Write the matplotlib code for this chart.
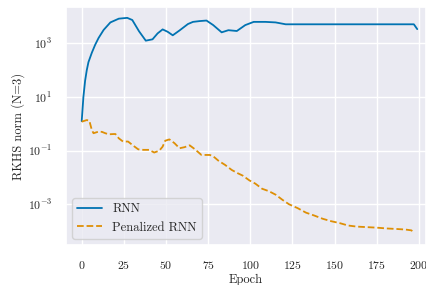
import numpy as np
import matplotlib
matplotlib.use('Agg')
from matplotlib import pyplot as plt
import seaborn as sns

# values (log10 of the norm)
rnn_epoch = [0, 1, 2, 3, 4, 6, 8, 10, 13, 17, 22, 27, 30, 34, 38, 42, 45, 48, 51,
             54, 58, 63, 66, 70, 74, 78, 83, 87, 92, 97, 102, 109, 115, 121, 130,
             150, 175, 197, 199]
rnn_log = [0.1, 1.0, 1.6, 2.0, 2.3, 2.65, 2.95, 3.2, 3.5, 3.78, 3.92, 3.95, 3.87,
           3.45, 3.1, 3.15, 3.37, 3.52, 3.43, 3.3, 3.48, 3.72, 3.8, 3.83, 3.85,
           3.68, 3.41, 3.49, 3.46, 3.68, 3.8, 3.8, 3.78, 3.71, 3.71, 3.71, 3.71,
           3.71, 3.53]

pen_epoch = [0, 3, 4.5, 6, 7, 10, 12, 14, 16, 19, 20, 22, 24.5, 27.5, 30.5, 33.5,
             36.5, 40, 43, 46, 48, 49.5, 52, 55, 58, 61, 64, 67, 71, 76, 78, 81,
             85, 89, 92.5, 95.5, 99.5, 103, 107, 111, 115, 119, 123, 128, 133,
             138, 143, 148, 153, 158, 163, 169, 175, 181, 187, 192, 195.5, 197]
pen_log = [0.08, 0.14, 0.12, -0.23, -0.35, -0.29, -0.3, -0.35, -0.39, -0.38,
           -0.38, -0.54, -0.66, -0.66, -0.81, -0.95, -0.97, -0.97, -1.07, -1.0,
           -0.85, -0.63, -0.58, -0.72, -0.91, -0.87, -0.8, -0.94, -1.16, -1.16,
           -1.21, -1.37, -1.53, -1.72, -1.84, -1.93, -2.11, -2.23, -2.42, -2.51,
           -2.64, -2.83, -3.0, -3.14, -3.31, -3.42, -3.54, -3.63, -3.7, -3.79,
           -3.83, -3.85, -3.87, -3.9, -3.92, -3.94, -3.97, -4.04]

labels = ['RNN', 'Penalized RNN']
colors = ['#0173b2', '#de8f05']
yticks = [1e-3, 1e-1, 1e1, 1e3]

sns.set_theme(style='darkgrid')
plt.rcParams['font.family'] = 'serif'
plt.rcParams['font.serif'] = ['cmr10', 'DejaVu Serif']
plt.rcParams['mathtext.fontset'] = 'cm'
plt.rcParams['axes.formatter.use_mathtext'] = True
plt.rcParams['axes.unicode_minus'] = False

fig = plt.figure(figsize=(4.26, 2.85), dpi=100)
ax = fig.add_axes([0.155, 0.14, 0.845, 0.835])

ax.plot(rnn_epoch, 10.0 ** np.array(rnn_log), color=colors[0], lw=1.3, label=labels[0])
ax.plot(pen_epoch, 10.0 ** np.array(pen_log), color=colors[1], lw=1.3, ls='--',
        label=labels[1])

ax.set_yscale('log')
ax.set_yticks(yticks)
ax.minorticks_off()
ax.set_ylim(10 ** -4.52, 10 ** 4.35)
ax.set_xlim(-9.3, 204.2)
ax.set_xticks([0, 25, 50, 75, 100, 125, 150, 175, 200])
ax.tick_params(labelsize=8.5, pad=4)
ax.set_xlabel('Epoch', fontsize=9, labelpad=2)
ax.set_ylabel('RKHS norm (N=3)', fontsize=9, labelpad=2)
ax.legend(loc='lower left', fontsize=9)

fig.savefig('out.png', dpi=100)
